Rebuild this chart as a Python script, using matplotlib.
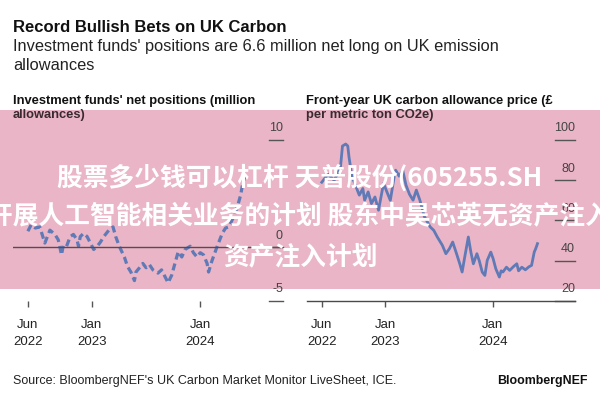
import matplotlib
matplotlib.use("Agg")
import matplotlib.pyplot as plt
import pandas as pd
from matplotlib.patches import Rectangle
from matplotlib.transforms import blended_transform_factory

# --- data ---
pos_dates = ["2022-06-01", "2022-06-12", "2022-06-26", "2022-07-11", "2022-07-28",
             "2022-08-14", "2022-08-31", "2022-09-11", "2022-09-22", "2022-09-28",
             "2022-10-09", "2022-10-21", "2022-11-01", "2022-11-13", "2022-11-18",
             "2022-11-24", "2022-12-05", "2022-12-17", "2022-12-28", "2023-01-08",
             "2023-01-20", "2023-01-31", "2023-02-11", "2023-02-28", "2023-03-14",
             "2023-03-23", "2023-04-04", "2023-04-21", "2023-05-02", "2023-05-13",
             "2023-05-19", "2023-05-25", "2023-05-30", "2023-06-11", "2023-06-22",
             "2023-07-03", "2023-07-14", "2023-07-26", "2023-08-12", "2023-08-24",
             "2023-09-04", "2023-09-15", "2023-09-27", "2023-10-08", "2023-10-19",
             "2023-10-31", "2023-11-11", "2023-11-28", "2023-12-09", "2023-12-21",
             "2024-01-01", "2024-01-12", "2024-01-24", "2024-01-29", "2024-02-10",
             "2024-02-27", "2024-03-15", "2024-03-26", "2024-04-06", "2024-04-23",
             "2024-05-05", "2024-05-16", "2024-05-23", "2024-05-30"]
pos_values = [1.5, 2.1, 1.8, 1.9, 0.4,
              1.6, 1.2, 0.7, -0.7, 0.2,
              0.1, 1.0, 1.2, 0.7, 0.1,
              1.0, 1.3, 1.0, 0.4, -0.2,
              0.1, 0.5, 1.0, 1.6, 1.9,
              1.0, 0.1, -0.9, -1.8, -2.3,
              -2.7, -3.1, -2.3, -1.9, -1.5,
              -1.9, -1.6, -2.1, -2.4, -2.1,
              -2.7, -3.3, -2.6, -1.5, -0.4,
              -0.9, -0.2, 0.1, -0.5, -0.9,
              -0.5, -0.7, -1.5, -2.3, -1.2,
              0.1, 1.3, 1.8, 1.9, 2.9,
              3.8, 4.9, 6.0, 6.6]

price_dates = ["2022-06-01", "2022-06-22", "2022-07-13", "2022-08-03", "2022-08-10",
               "2022-08-21", "2022-08-28", "2022-09-01", "2022-09-11", "2022-09-25",
               "2022-10-06", "2022-10-18", "2022-10-24", "2022-11-05", "2022-11-16",
               "2022-11-28", "2022-12-10", "2022-12-27", "2023-01-08", "2023-01-19",
               "2023-02-01", "2023-02-06", "2023-02-18", "2023-03-02", "2023-03-13",
               "2023-03-25", "2023-04-06", "2023-04-17", "2023-04-29", "2023-05-14",
               "2023-06-03", "2023-06-15", "2023-06-27", "2023-07-14", "2023-07-26",
               "2023-08-07", "2023-08-18", "2023-08-30", "2023-09-11", "2023-09-19",
               "2023-09-28", "2023-10-10", "2023-10-19", "2023-10-27", "2023-11-08",
               "2023-11-16", "2023-11-26", "2023-12-05", "2023-12-13", "2023-12-25",
               "2024-01-02", "2024-01-11", "2024-01-23", "2024-01-29", "2024-02-04",
               "2024-02-16", "2024-02-27", "2024-03-10", "2024-03-22", "2024-03-28",
               "2024-04-08", "2024-04-20", "2024-05-02", "2024-05-11", "2024-05-20",
               "2024-05-25", "2024-05-31"]
price_values = [79, 83, 80, 86, 97,
                98, 97, 91.7, 82, 76.7,
                72.6, 75.9, 70.1, 74.2, 68.4,
                71.7, 65.1, 78.4, 74, 70,
                81.7, 85, 82, 85, 77.6,
                73, 70.1, 75.1, 70.1, 62,
                56.8, 55.1, 51.8, 47.7, 43.5,
                46, 49.3, 44, 38.5, 34.4,
                42, 51.8, 44, 38.5, 43.5,
                40, 34.4, 32.7, 40.2, 44.3,
                41, 36, 31.9, 35, 34.4,
                36.8, 35.2, 37, 38.5, 35,
                36.8, 35.5, 37, 37.7, 44.3,
                46, 48.5]

pos_ticks = [10, 0, -5]
price_ticks = [100, 80, 60, 40, 20]
date_ticks = ["2022-06-01", "2023-01-01", "2024-01-01"]
date_labels = ["Jun\n2022", "Jan\n2023", "Jan\n2024"]

plt.rcParams["font.family"] = ["Liberation Sans", "DejaVu Sans"]
cjk = ["Noto Sans CJK SC", "DejaVu Sans"]

W, H = 600, 400
def fx(x):
    return x / W
def fy(y):
    return 1 - y / H

line_col = "#5f7ab6"
axis_col = "#555555"
text_col = "#222222"

fig = plt.figure(figsize=(6, 4), dpi=100)
fig.patch.set_facecolor("white")

# pink band behind the plots
fig.add_artist(Rectangle((0, fy(289)), 1, (289 - 110) / H, transform=fig.transFigure,
                         facecolor="#eab5c6", edgecolor="none", zorder=-1))

ax1 = fig.add_axes([fx(13), fy(301), (283 - 13) / W, (301 - 140) / H])
ax2 = fig.add_axes([fx(307), fy(301), (575 - 307) / W, (301 - 140) / H])

xmin, xmax = pd.Timestamp("2022-04-12"), pd.Timestamp("2024-10-05")

ax1.plot(pd.to_datetime(pos_dates), pos_values, color=line_col, lw=2.3,
         linestyle=(0, (2.2, 1.3)), solid_capstyle="butt")
ax1.set_ylim(-5, 10)
ax1.axhline(0, color="#5a4a52", lw=1)

ax2.plot(pd.to_datetime(price_dates), price_values, color=line_col, lw=2)
ax2.set_ylim(20, 100)

for ax, ticks, stub in [(ax1, pos_ticks, 0.948), (ax2, price_ticks, 0.925)]:
    ax.set_facecolor("none")
    ax.set_xlim(xmin, xmax)
    for s in ["top", "left", "right", "bottom"]:
        ax.spines[s].set_visible(False)
    ax.set_yticks([])
    ax.set_xticks(pd.to_datetime(date_ticks))
    ax.set_xticklabels(date_labels, fontsize=9.5, color=text_col, linespacing=1.5)
    ax.tick_params(axis="x", direction="out", length=4, width=1, color=axis_col, pad=9)
    tr = blended_transform_factory(ax.transAxes, ax.transData)
    for t in ticks:
        ax.plot([stub, 1], [t, t], transform=tr, color=axis_col, lw=1, clip_on=False)
        ax.annotate(str(t), xy=(1.0, t), xycoords=tr, xytext=(0, 4),
                    textcoords="offset points", ha="right", va="bottom",
                    fontsize=9, color="#444444")

ax2.spines["bottom"].set_visible(True)
ax2.spines["bottom"].set_color("#4a4a4a")
ax2.spines["bottom"].set_linewidth(1)

# titles
fig.text(fx(13), fy(27), "Record Bullish Bets on UK Carbon", fontsize=12,
         fontweight="bold", color="#111111", va="center")
fig.text(fx(13), fy(47), "Investment funds' positions are 6.6 million net long on UK emission",
         fontsize=11.8, color=text_col, va="center")
fig.text(fx(13), fy(66), "allowances", fontsize=11.8, color=text_col, va="center")

fig.text(fx(13), fy(101), "Investment funds' net positions (million", fontsize=9.3,
         fontweight="bold", color="#111111", va="center")
fig.text(fx(13), fy(115), "allowances)", fontsize=9.3, fontweight="bold",
         color="#3a2a30", va="center")
fig.text(fx(306), fy(101), "Front-year UK carbon allowance price (£", fontsize=9.3,
         fontweight="bold", color="#111111", va="center")
fig.text(fx(306), fy(115), "per metric ton CO2e)", fontsize=9.3, fontweight="bold",
         color="#3a2a30", va="center")

fig.text(fx(13), fy(381), "Source: BloombergNEF's UK Carbon Market Monitor LiveSheet, ICE.",
         fontsize=9, color=text_col, va="center")
fig.text(fx(588), fy(381), "BloombergNEF", fontsize=8.9, fontweight="bold",
         color="#111111", va="center", ha="right")

# watermark overlay
wm = dict(fontsize=18.5, fontweight="bold", color="white", va="center", family=cjk, zorder=10)
fig.text(0.5, fy(178), "股票多少钱可以杠杆 天普股份(605255.SH", ha="center", **wm)
fig.text(fx(-13), fy(217), "开展人工智能相关业务的计划 股东中昊芯英无资产注入", ha="left", **wm)
fig.text(0.5, fy(257), "资产注入计划", ha="center", **wm)

fig.savefig("out.png", dpi=100, facecolor="white")
